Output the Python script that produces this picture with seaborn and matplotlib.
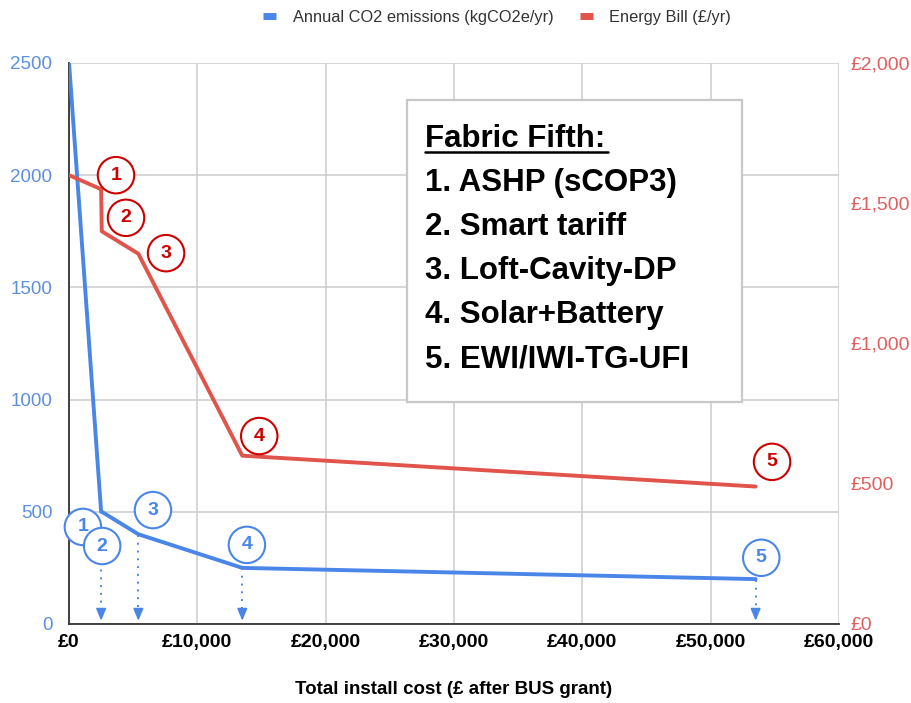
import matplotlib
matplotlib.use("Agg")
import matplotlib.pyplot as plt
import seaborn as sns
import pandas as pd
from matplotlib.lines import Line2D
from matplotlib.patches import Rectangle
from matplotlib.ticker import FuncFormatter

# ---- data ----
install_cost = [0, 2500, 2550, 5400, 13500, 53500]
co2 = [2500, 500, 500, 400, 250, 200]
bill = [1600, 1550, 1400, 1320, 600, 490]
measures = ["1. ASHP (sCOP3)", "2. Smart tariff", "3. Loft-Cavity-DP",
            "4. Solar+Battery", "5. EWI/IWI-TG-UFI"]
arrow_x = [2500, 5400, 13500, 53500]
arrow_top = [310, 395, 250, 195]
left_ticks = [0, 500, 1000, 1500, 2000, 2500]
right_ticks = [0, 500, 1000, 1500, 2000]
x_ticks = [0, 10000, 20000, 30000, 40000, 50000, 60000]

BLUE = "#4a86e8"
RED = "#e0544b"
DARKRED = "#cc0000"
BLUE_TXT = "#5b8fe0"
RED_TXT = "#e06060"

sns.set_theme(style="white")
plt.rcParams['font.family'] = ['Liberation Sans', 'DejaVu Sans']

df = pd.DataFrame({"cost": install_cost, "co2": co2, "bill": bill})

fig = plt.figure(figsize=(9.12, 7.03), dpi=100)
ax = fig.add_axes([0.0757, 0.1124, 0.8443, 0.798])
ax2 = ax.twinx()

sns.lineplot(data=df, x="cost", y="co2", ax=ax, color=BLUE, lw=2.8, sort=False, zorder=3)
sns.lineplot(data=df, x="cost", y="bill", ax=ax2, color=RED, lw=2.8, sort=False, zorder=3)

ax.set_xlim(0, 60000)
ax.set_ylim(0, 2500)
ax2.set_ylim(0, 2000)
ax.set_xticks(x_ticks)
ax.set_yticks(left_ticks)
ax2.set_yticks(right_ticks)
ax.xaxis.set_major_formatter(FuncFormatter(lambda v, p: f"£{int(v):,}"))
ax2.yaxis.set_major_formatter(FuncFormatter(lambda v, p: f"£{int(v):,}"))
ax.grid(True, color="#cccccc", lw=1.1)
ax2.grid(False)
ax.set_axisbelow(True)

for s in ["top", "right"]:
    ax.spines[s].set_visible(False)
for s in ["top", "right", "left", "bottom"]:
    ax2.spines[s].set_visible(False)
ax.spines["left"].set_color("#333333")
ax.spines["bottom"].set_color("#333333")
ax.spines["left"].set_linewidth(1.3)
ax.spines["bottom"].set_linewidth(1.3)

ax.tick_params(axis="y", colors=BLUE_TXT, labelsize=13.5, length=0, pad=12)
ax.tick_params(axis="x", colors="black", labelsize=14, length=0, pad=7)
for lbl in ax.get_xticklabels():
    lbl.set_fontweight("bold")
ax2.tick_params(axis="y", colors=RED_TXT, labelsize=14, length=0, pad=8)
ax.set_xlabel("Total install cost (£ after BUS grant)", fontsize=13.5,
              fontweight="bold", labelpad=22, color="black")
ax.set_ylabel("")
ax2.set_ylabel("")

# circled step numbers (axes-fraction positions)
red_circles = [(0.061, 0.800), (0.074, 0.724), (0.126, 0.661), (0.247, 0.335), (0.913, 0.289)]
blue_circles = [(0.018, 0.173), (0.043, 0.139), (0.109, 0.203), (0.231, 0.141), (0.899, 0.118)]
for i, (x, y) in enumerate(red_circles):
    ax2.text(x, y, str(i + 1), transform=ax2.transAxes, ha="center", va="center",
             fontsize=14, fontweight="bold", color=DARKRED, zorder=6,
             bbox=dict(boxstyle="circle,pad=0.5", fc="white", ec=DARKRED, lw=1.5))
for i, (x, y) in enumerate(blue_circles):
    ax2.text(x, y, str(i + 1), transform=ax2.transAxes, ha="center", va="center",
             fontsize=14, fontweight="bold", color=BLUE, zorder=6,
             bbox=dict(boxstyle="circle,pad=0.5", fc="white", ec=BLUE, lw=1.5))

# dotted arrows down to axis
for x, top in zip(arrow_x, arrow_top):
    ax.plot([x, x], [top, 25], color=BLUE, lw=1.4, linestyle=(0, (1, 3)), zorder=4)
    ax.annotate("", xy=(x, 2), xytext=(x, 60),
                arrowprops=dict(arrowstyle="-|>,head_width=0.25,head_length=0.6",
                                color=BLUE, lw=1.2), zorder=4)

# text box
W, H = 912, 703
def fx(px):
    return px / W
def fy(py):
    return 1 - py / H
fig.patches.append(Rectangle((fx(407), fy(402)), fx(742) - fx(407), fy(100) - fy(402),
                             transform=fig.transFigure, fc="white", ec="#c8c8c8",
                             lw=1.6, zorder=10))
lines_y = [139, 183, 227, 271, 315, 359]
texts = ["Fabric Fifth:"] + measures
for t, py in zip(texts, lines_y):
    fig.text(fx(425), fy(py), t, ha="left", va="center", fontsize=22.5,
             fontweight="bold", color="black", zorder=11)
fig.add_artist(Line2D([fx(425), fx(608)], [fy(152), fy(152)], transform=fig.transFigure,
                      color="black", lw=1.8, zorder=11))

# legend
handles = [Line2D([], [], color=BLUE, lw=5, solid_capstyle="butt"),
           Line2D([], [], color=RED, lw=5, solid_capstyle="butt")]
fig.legend(handles, ["Annual CO2 emissions (kgCO2e/yr)", "Energy Bill (£/yr)"],
           loc="center", bbox_to_anchor=(0.545, 0.975), ncol=2, frameon=False,
           fontsize=11.8, handlelength=0.8, columnspacing=1.6, handletextpad=1.0,
           labelcolor="#333333")

fig.savefig("out.png", dpi=100)
